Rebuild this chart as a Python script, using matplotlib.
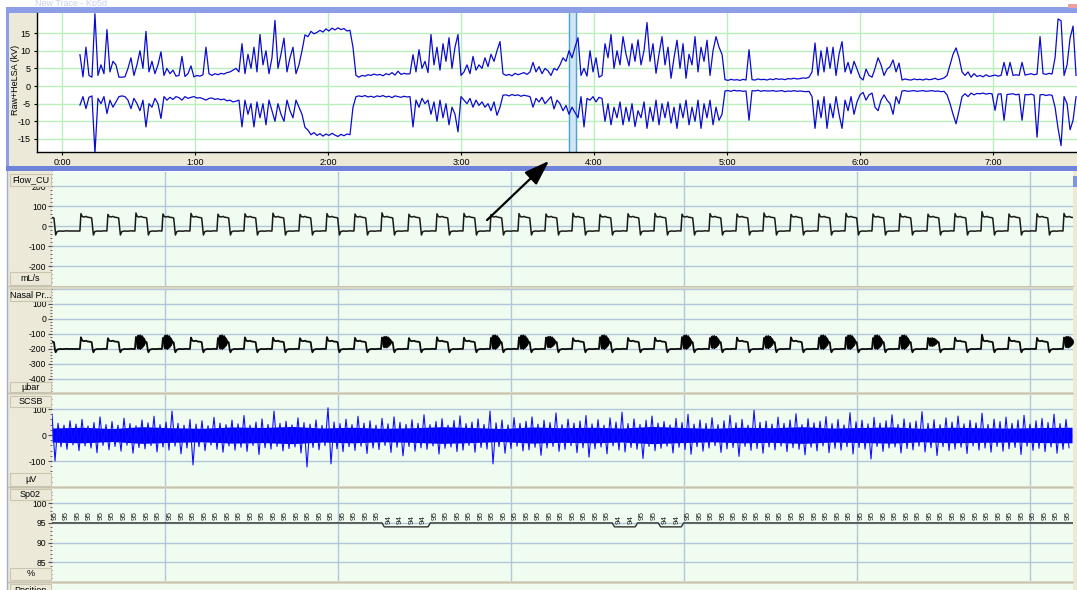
import numpy as np
import matplotlib
matplotlib.use("Agg")
import matplotlib.pyplot as plt
from matplotlib.patches import Rectangle, FancyArrowPatch
from matplotlib.lines import Line2D
from matplotlib.ticker import AutoMinorLocator

plt.rcParams['font.family'] = ['Liberation Sans', 'DejaVu Sans']
plt.rcParams['axes.unicode_minus'] = False

# ------------------------------------------------------------------ data
hour_ticks = [0, 1, 2, 3, 4, 5, 6, 7]
hour_labels = ['0:00', '1:00', '2:00', '3:00', '4:00', '5:00', '6:00', '7:00']
kv_ticks = [-15, -10, -5, 0, 5, 10, 15]

trace_start_h = 0.135          # first sample of the overview trace (hours)
trace_step_h = 0.02256         # sample interval of the overview trace (hours)
raw_upper = [
    8.9, 2.6, 11, 3, 2.5, 20.5, 3, 6, 3.5, 16,
    4, 7, 6, 2.5, 2.5, 2.6, 5, 8, 3, 6,
    10, 5, 15.5, 4, 7, 3.5, 6, 9.7, 3, 5,
    3.5, 4.5, 2.8, 3, 8.4, 2.7, 3.5, 5.7, 2.6, 3,
    2.8, 3.2, 11, 3.5, 3, 3.5, 3.2, 3.6, 3.4, 3.8,
    4, 4.5, 5, 4, 12, 3.5, 9, 5, 11, 4,
    14.6, 6, 10, 3.5, 8, 18.6, 5, 9, 13.6, 4,
    8, 11, 3.5, 6, 10, 14.5, 14, 15.5, 14.8, 15.2,
    15.8, 15.3, 16.2, 15.6, 16.4, 15.9, 16.5, 16, 16.3, 15.6,
    15.8, 11, 3, 2.5, 3, 2.8, 3.2, 3, 3.4, 3.1,
    3.3, 2.9, 3.5, 3.2, 3.8, 3.1, 4.2, 3.3, 3.6, 3.4,
    3.5, 8.9, 4, 10.3, 5, 7, 3.8, 14.6, 6, 11,
    4.5, 12, 7, 13.7, 5, 11, 14.6, 3, 4, 6,
    3.5, 8.4, 4.5, 6, 5, 8, 5.5, 9, 7, 10,
    12.6, 3.5, 3, 3.3, 2.9, 3.6, 3.2, 3.5, 3.8, 3.3,
    4, 6.7, 4, 5.5, 3.5, 5, 4.3, 3, 5, 4.5,
    6, 8, 7, 10, 8, 11, 13.7, 3, 5, 2.8,
    10, 4, 8, 2.5, 3, 12, 8, 14.6, 5, 10,
    6, 14, 9, 5.7, 12, 7, 13.1, 6, 10, 18,
    7, 12, 3.6, 9, 14, 6, 11, 2.2, 8, 13,
    5, 12, 2.2, 9, 6, 14, 4, 11, 7, 13,
    3, 10, 14, 11, 9, 1.8, 1.6, 1.9, 1.7, 1.8,
    1.6, 1.9, 1.7, 10.3, 1.8, 1.7, 2, 1.8, 1.9, 1.7,
    2, 1.8, 2.1, 1.9, 2, 1.8, 2.1, 2, 2.2, 2,
    2.1, 2.3, 2.2, 2.5, 4, 12.2, 3, 10, 4, 11,
    5, 11, 3, 9, 12.6, 4, 6.7, 3.5, 7, 4.8,
    2.5, 1.7, 4.8, 3, 2.5, 5, 8, 6, 3, 4.8,
    5.5, 7.4, 4, 6.5, 1.7, 2, 1.8, 1.7, 2, 1.8,
    1.9, 1.7, 2, 1.8, 1.9, 2.2, 1.8, 2, 2.3, 3,
    6, 9, 10.8, 8, 4, 3, 4, 2.5, 3.5, 2.7,
    3, 2.6, 3.2, 2.7, 2.9, 3.1, 2.8, 3, 6.7, 3,
    6.7, 3, 3.2, 3, 6.7, 3.1, 3.3, 3.5, 3.2, 3.4,
    14, 3.5, 3.3, 3.6, 3.4, 8, 19, 18.5, 3, 6,
    13.6, 17, 3,
]
raw_lower = [
    -5.4, -3, -6.4, -3.2, -2.8, -19, -3.5, -5, -3, -7.8,
    -4, -6, -4.5, -3, -2.8, -3, -4, -6.4, -3.5, -5,
    -7, -4, -11.6, -5, -6, -3.5, -5, -9.2, -3, -4,
    -3.2, -3.8, -3, -3.3, -4, -3, -3.5, -3.2, -3, -3.4,
    -3.3, -3.6, -4, -3.5, -3.4, -3.8, -3.6, -3.9, -3.7, -4.2,
    -4, -4.5, -4.3, -4, -11.6, -4, -8, -5, -11.6, -4.5,
    -9, -5, -11, -4, -7, -10, -5, -8, -10, -4,
    -7, -9, -4, -6, -8, -11.7, -12.5, -13.8, -13.2, -14,
    -13.5, -14.2, -13.6, -14, -13.4, -13.9, -14.3, -13.7, -14.1, -13.6,
    -13.8, -6, -3, -2.8, -3, -2.7, -3.1, -2.9, -3.2, -2.8,
    -3, -2.7, -3.1, -2.9, -3.3, -2.8, -3, -3.2, -2.9, -3.1,
    -3, -11.6, -4, -6, -3.5, -5, -4, -8, -4.5, -10,
    -4, -9, -5, -11, -6, -8, -13, -3, -4, -5,
    -3.5, -6, -4, -5.5, -4.5, -6, -5, -7, -4.5, -8.3,
    -6, -2.6, -2.5, -2.8, -2.4, -2.7, -2.5, -2.9, -2.6, -2.8,
    -3, -6, -3.5, -4.5, -3.2, -5, -4, -3, -6.5, -4,
    -5, -7, -5.5, -8, -6, -7.5, -9, -3, -11.6, -3.5,
    -4, -3, -4.5, -3.2, -3.5, -10, -5, -11, -6, -9,
    -4.5, -11, -6, -10, -5, -11.5, -7, -9, -4.5, -12,
    -6, -10, -4, -11, -5, -9, -4.5, -10.5, -6, -12,
    -5, -9, -4, -11, -6, -10, -4, -12, -5, -9,
    -4, -11, -6, -9.7, -8, -1.4, -1.3, -1.5, -1.2, -1.4,
    -1.3, -1.5, -1.4, -9.7, -1.3, -1.4, -1.2, -1.5, -1.3, -1.4,
    -1.4, -1.3, -1.5, -1.4, -1.3, -1.6, -1.4, -1.5, -1.3, -1.5,
    -1.4, -1.5, -1.6, -1.5, -3, -12, -4, -9, -3, -12,
    -5, -9, -3, -8, -12, -4, -7, -3, -8, -4.5,
    -2.5, -1.8, -4, -2.5, -2, -6, -7, -4, -2.5, -4,
    -5, -8, -3, -5, -1.4, -1.3, -1.5, -1.4, -1.3, -1.5,
    -1.4, -1.3, -1.5, -1.4, -1.3, -1.5, -1.4, -1.6, -1.5, -2.5,
    -5, -8, -10.7, -7, -3, -2.2, -3, -2, -2.5, -2.1,
    -2.2, -2, -2.3, -2.1, -2.2, -6.9, -2.3, -2.2, -9.7, -2.4,
    -2.3, -2.2, -2.5, -2.3, -9.7, -2.4, -2.5, -2.3, -2.6, -14.5,
    -2.5, -2.4, -2.7, -2.5, -2.6, -6, -12, -16.9, -3, -5,
    -12.4, -9.7, -3,
]
selection_h = (3.812, 3.865)

# epoch panels (seconds)
grid_sec = [5, 10, 15, 20, 25, 30]
breath_onsets = [1.45, 2.54, 3.32, 4.13, 4.91, 5.72, 6.50, 7.28, 8.09, 8.87,
                 9.65, 10.46, 11.24, 12.02, 12.83, 13.61, 14.39, 15.20, 15.98, 16.76,
                 17.54, 18.35, 19.13, 19.91, 20.72, 21.50, 22.28, 23.06, 23.87, 24.65,
                 25.43, 26.21, 27.02, 27.80, 28.58, 29.36, 30.17, 30.95]
breath_rel = [0.00, 0.03, 0.07, 0.12, 0.18, 0.22, 0.30, 0.34, 0.37, 0.39, 0.43, 0.50, 0.60, 0.70, 0.76]
flow_shape = [-25, 60, 47, 45, 48, 44, 42, 40, -10, -45, -28, -25, -26, -24, -25]
flow_peaks = [60, 62, 58, 65, 60, 63, 59, 61, 64, 58, 62, 60, 66, 59, 61, 63, 57, 62, 60,
              64, 58, 61, 63, 59, 62, 60, 65, 58, 61, 63, 60, 62, 59, 62, 72, 60, 61, 63]
nasal_shape = [-200, -125, -145, -148, -145, -150, -152, -155, -205, -222, -205, -200, -201, -199, -200]
nasal_peaks = [-125, -122, -128, -120, -126, -124, -127, -123, -125, -128, -121, -126, -124,
               -127, -122, -125, -126, -123, -124, -128, -122, -126, -125, -121, -127, -124,
               -126, -123, -125, -122, -127, -124, -126, -125, -105, -123, -126, -124]
snore_breaths = [3, 4, 6, 12, 16, 17, 18, 20, 23, 24, 26, 28, 29, 30, 31, 32, 37]
snore_size = [1.0, 1.0, 1.0, 0.8, 1.0, 1.0, 0.8, 1.0, 1.0, 0.9, 0.9, 1.0, 1.0, 1.0, 1.0, 0.6, 0.8]
blob_rel = [0.03, 0.05, 0.08, 0.11, 0.14, 0.17, 0.20, 0.23, 0.27, 0.30]
blob_top = [-150, -112, -104, -110, -102, -112, -108, -120, -130, -150]
blob_bot = [-150, -190, -198, -192, -200, -194, -190, -182, -170, -150]

emg_start, emg_step = 1.734, 0.1734
emg_hi = [80, 45, 38, 55, 42, 60, 35, 48, 70, 40,
          52, 38, 65, 44, 36, 58, 47, 72, 40, 50,
          92, 45, 38, 60, 42, 55, 36, 68, 46, 40,
          57, 43, 75, 38, 50, 62, 41, 92, 45, 53,
          39, 66, 48, 42, 58, 37, 105, 50, 44, 61,
          40, 72, 46, 55, 38, 64, 43, 70, 49, 41,
          59, 45, 78, 40, 52, 63, 38, 56, 74, 44,
          50, 62, 41, 92, 47, 58, 39, 67, 45, 53,
          70, 42, 57, 48, 85, 40, 61, 46, 54, 75,
          43, 59, 38, 66, 50, 88, 44, 62, 41, 57,
          73, 46, 52, 39, 64, 48, 80, 42, 58, 45,
          67, 40, 55, 76, 47, 60, 38, 95, 49, 54,
          42, 69, 45, 58, 82, 40, 63, 47, 53, 71,
          44, 60, 39, 86, 51, 57, 43, 68, 46, 55,
          78, 41, 62, 48, 54, 90, 45, 59, 40, 66,
          50, 73, 43, 57, 47, 84, 41, 61, 52, 69,
          45, 58, 76, 42, 55, 64, 48, 80, 44, 60]
emg_lo = [-100, -45, -55, -38, -60, -42, -50, -68, -40, -57,
          -44, -62, -39, -70, -48, -53, -41, -65, -46, -58,
          -43, -72, -50, -115, -45, -60, -39, -55, -66, -42,
          -58, -47, -63, -40, -75, -49, -54, -44, -61, -52,
          -46, -69, -123, -48, -57, -41, -111, -53, -64, -45,
          -59, -43, -71, -50, -56, -40, -67, -47, -80, -44,
          -62, -49, -55, -42, -73, -51, -46, -64, -58, -40,
          -66, -48, -54, -111, -45, -70, -52, -43, -61, -57,
          -47, -78, -50, -44, -63, -55, -41, -68, -49, -85,
          -53, -46, -72, -42, -58, -65, -48, -55, -90, -44,
          -60, -51, -43, -69, -47, -56, -74, -45, -62, -50,
          -41, -67, -53, -48, -82, -44, -59, -52, -70, -46,
          -57, -43, -64, -49, -55, -76, -47, -61, -42, -68,
          -51, -58, -45, -73, -48, -54, -92, -44, -63, -50,
          -46, -69, -52, -57, -43, -65, -49, -79, -45, -60,
          -54, -47, -71, -42, -58, -50, -66, -44, -62, -53,
          -48, -75, -43, -59, -51, -64, -46, -70, -55, -49]
emg_core_step = 0.867
emg_core = [27, 30, 25, 32, 28, 26, 31, 29, 33, 27, 30, 26, 28, 32, 29, 25, 31, 28,
            30, 27, 33, 29, 26, 30, 28, 32, 27, 29, 31, 26, 30, 28, 27, 29, 30]

spo2_start, spo2_step = 1.821, 0.3327
spo2 = [95, 95, 95, 95, 95, 95, 95, 95, 95, 95, 95, 95, 95, 95, 95, 95, 95, 95, 95, 95,
        95, 95, 95, 95, 95, 95, 95, 95, 95, 94, 94, 94, 94, 95, 95, 95, 95, 95, 95, 95,
        95, 95, 95, 95, 95, 95, 95, 95, 95, 94, 94, 95, 95, 94, 94, 95, 95, 95, 95, 95,
        95, 95, 95, 95, 95, 95, 95, 95, 95, 95, 95, 95, 95, 95, 95, 95, 95, 95, 95, 95,
        95, 95, 95, 95, 95, 95, 95, 95, 95]

# ------------------------------------------------------------------ figure
W, H = 1077, 590
fig = plt.figure(figsize=(W / 100, H / 100), dpi=100)
fig.patch.set_facecolor('white')

BEIGE = '#ece9d8'
GREENBG = '#effcef'
BLUEGRID = '#b4c6dc'
TICKFS = 6.2


def fy(py):
    return 1 - py / H


def add_rect(x0, y0, x1, y1, fc, ec='none', lw=0, z=-5):
    r = Rectangle((x0 / W, 1 - y1 / H), (x1 - x0) / W, (y1 - y0) / H,
                  transform=fig.transFigure, facecolor=fc, edgecolor=ec,
                  linewidth=lw, zorder=z)
    fig.add_artist(r)


def add_line(x0, y0, x1, y1, color, lw=1, z=-4):
    fig.add_artist(Line2D([x0 / W, x1 / W], [fy(y0), fy(y1)], transform=fig.transFigure,
                          color=color, lw=lw, zorder=z))


def add_ax(x0, y0, x1, y1):
    return fig.add_axes([x0 / W, 1 - y1 / H, (x1 - x0) / W, (y1 - y0) / H])


# ---------------- top overview window
add_rect(6, 7, W, 13, '#8c9fe6')
add_rect(6, 7, 9, 171, '#8c9fe6')
add_rect(9, 13, W, 166, BEIGE)
add_rect(6, 166, W, 171, '#7083db')
add_rect(1068, 4, 1077, 8, '#e8a0a0', z=-4)
fig.text(35 / W, fy(3.5), 'New Trace - Kp5d', fontsize=6.5, color='#c9d0ec', va='center')
fig.text(16 / W, fy(80), 'Raw+HeLSA (kV)', rotation=90, fontsize=6.5, ha='center', va='center')

ax0 = add_ax(37, 13, W, 152)
ax0.set_facecolor('white')
hours = trace_start_h + trace_step_h * np.arange(len(raw_upper))
ax0.axvspan(selection_h[0], selection_h[1], color='#cfe6f4', zorder=1)
for h in selection_h:
    ax0.axvline(h, color='#4da3d6', lw=1, zorder=1.5)
ax0.plot(hours, raw_upper, color='#0b0bd0', lw=0.9, zorder=3)
ax0.plot(hours, raw_lower, color='#0b0bd0', lw=0.9, zorder=3)
ax0.set_xlim(-0.188, 7.632)
ax0.set_ylim(-18.7, 20.7)
ax0.set_xticks(hour_ticks)
ax0.set_xticklabels(hour_labels)
ax0.set_yticks(kv_ticks)
ax0.grid(True, color='#b9efb9', lw=1)
ax0.set_axisbelow(True)
for s in ['top', 'right']:
    ax0.spines[s].set_visible(False)
for s in ['left', 'bottom']:
    ax0.spines[s].set_color('black')
    ax0.spines[s].set_linewidth(1)
ax0.tick_params(labelsize=6.5, length=2.5, width=0.8, pad=2)

# ---------------- lower epoch window
add_line(7, 171, 7, 590, '#9fb0d0', lw=1)
add_rect(8, 171, 52, 590, BEIGE)
add_line(51.5, 171, 51.5, 590, '#c9c5b2', lw=0.8)
add_rect(1073, 171, W, 590, BEIGE)
add_rect(1073, 176, W, 187, '#7f95e0', z=-4)

XL = (1.734, 31.24)


def label_box(y0, y1, text):
    add_rect(10, y0, 51, y1, BEIGE, ec='#c9c5b2', lw=0.8, z=5)
    fig.text(30.5 / W, fy((y0 + y1) / 2), text, ha='center', va='center', fontsize=6.5, zorder=6)


def epoch_ax(y0, y1, ylim, yticks, ylabels=None):
    ax = add_ax(52, y0, 1073, y1)
    ax.set_facecolor(GREENBG)
    ax.set_xlim(*XL)
    ax.set_ylim(*ylim)
    ax.set_xticks(grid_sec)
    ax.set_yticks(yticks)
    if ylabels is not None:
        ax.set_yticklabels(ylabels)
    ax.yaxis.set_minor_locator(AutoMinorLocator(5))
    ax.grid(True, which='major', color=BLUEGRID, lw=1)
    ax.set_axisbelow(True)
    for s in ax.spines.values():
        s.set_visible(False)
    ax.tick_params(axis='x', bottom=False, labelbottom=False)
    ax.tick_params(axis='y', labelsize=TICKFS, length=3, width=0.8, color='#505050', pad=1)
    ax.tick_params(axis='y', which='minor', length=1.5, width=0.6, color='#505050')
    return ax


def breath_trace(shape, peaks):
    xs, ys = [], []
    rel = np.array(breath_rel)
    for i, o in enumerate(breath_onsets):
        nxt = breath_onsets[i + 1] if i + 1 < len(breath_onsets) else o + 0.8
        vals = list(shape)
        vals[1] = peaks[i]
        keep = rel < (nxt - o)
        xs.extend(list(o + rel[keep]))
        ys.extend([v for v, k in zip(vals, keep) if k])
    return xs, ys


# Flow_CU
ax1 = epoch_ax(172, 286, (-300, 270), [200, 100, 0, -100, -200])
fx_, fy_ = breath_trace(flow_shape, flow_peaks)
ax1.plot(fx_, fy_, color='#1a1a1a', lw=1.1)
label_box(174, 186, 'Flow_CU')
label_box(272, 285, 'mL/s')

# Nasal pressure
ax2 = epoch_ax(289, 392, (-487, 200), [200, 100, 0, -100, -200, -300, -400],
               ['', '100', '0', '-100', '-200', '-300', '-400'])
nx_, ny_ = breath_trace(nasal_shape, nasal_peaks)
ax2.plot(nx_, ny_, color='#0a0a0a', lw=1.3)
for b, sz in zip(snore_breaths, snore_size):
    o = breath_onsets[b]
    bt = o + np.array(blob_rel)
    top = -150 + (np.array(blob_top) + 150) * sz
    bot = -150 + (np.array(blob_bot) + 150) * sz
    ax2.fill_between(bt, bot, top, color='black', lw=0.6, zorder=3)
label_box(289, 301, 'Nasal Pr...')
label_box(382, 392, 'µbar')

# SCSB
ax3 = epoch_ax(395, 486, (-196, 154), [100, 0, -100])
et = emg_start + emg_step * np.arange(len(emg_hi))
zt = np.empty(2 * len(et))
zv = np.empty(2 * len(et))
zt[0::2] = et
zt[1::2] = et + emg_step / 2
zv[0::2] = emg_hi
zv[1::2] = emg_lo
ct = emg_start + emg_core_step * np.arange(len(emg_core))
core = np.array(emg_core)
ax3.fill_between(ct, -core, core, color='#0000ff', lw=0, zorder=2)
ax3.plot(zt, zv, color='#1010ff', lw=0.8, zorder=3)
label_box(396, 407, 'SCSB')
label_box(473, 486, 'µV')

# SpO2
ax4 = epoch_ax(489, 581, (80.2, 103.65), [100, 95, 90, 85])
st = spo2_start + spo2_step * np.arange(len(spo2))
lx, ly = [], []
for t, v in zip(st, spo2):
    lx += [t - 0.4 * spo2_step, t + 0.4 * spo2_step]
    ly += [v, v]
ax4.plot(lx, ly, color='#303030', lw=1.0)
for t, v in zip(st, spo2):
    ax4.text(t, v + 2.0, str(v), rotation=90, fontsize=5.8, ha='center', va='center', color='#202020')
label_box(489, 500, 'Sp02')
label_box(568, 580, '%')

# Position (cut off at the bottom of the window)
add_rect(52, 584, 1073, 590, GREENBG, z=-4)
label_box(584, 597, 'Position')

# panel separators
for ys in [286, 392, 486, 581]:
    add_rect(8, ys, 1073, ys + 3, '#dcd7c3', z=4)
    add_line(8, ys + 0.5, 1073, ys + 0.5, '#c2bfae', lw=0.6, z=4)

# arrow
arrow = FancyArrowPatch((485 / W, fy(222)), (551 / W, fy(159)), transform=fig.transFigure,
                        arrowstyle='-|>,head_length=1.1,head_width=0.38', mutation_scale=14,
                        color='black', lw=1.6, zorder=10)
fig.add_artist(arrow)

fig.savefig('out.png', dpi=100, facecolor='white')
